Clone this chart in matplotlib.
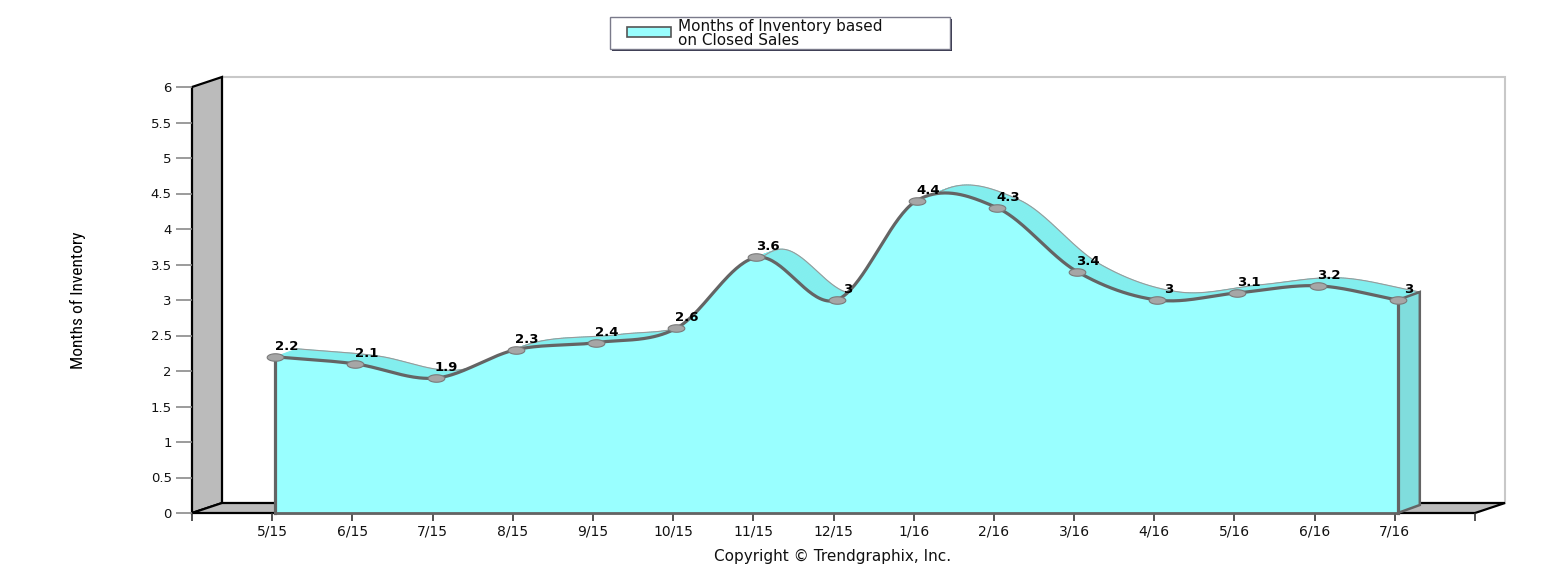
import numpy as np
import matplotlib
matplotlib.use('Agg')
import matplotlib.pyplot as plt
from matplotlib.patches import Polygon, Rectangle
from matplotlib.collections import PolyCollection
from matplotlib.path import Path
from matplotlib import font_manager

# ---------------- data ----------------
months = ['5/15', '6/15', '7/15', '8/15', '9/15', '10/15', '11/15', '12/15',
          '1/16', '2/16', '3/16', '4/16', '5/16', '6/16', '7/16']
inventory = [2.2, 2.1, 1.9, 2.3, 2.4, 2.6, 3.6, 3.0, 4.4, 4.3, 3.4, 3.0, 3.1, 3.2, 3.0]
y_ticks = [0, 0.5, 1, 1.5, 2, 2.5, 3, 3.5, 4, 4.5, 5, 5.5, 6]
y_tick_labels = ['0', '0.5', '1', '1.5', '2', '2.5', '3', '3.5', '4', '4.5', '5', '5.5', '6']
legend_label = 'Months of Inventory based\non Closed Sales'
y_title = 'Months of Inventory'
copyright_text = 'Copyright \u00a9 Trendgraphix, Inc.'

# ---------------- styles ----------------
FRONT = '#99FFFF'
BAND = '#82EEEE'
SIDE = '#80DDDD'
LINE = '#646464'
WALL = '#BBBBBB'

avail = {f.name for f in font_manager.fontManager.ttflist}
narrow = None
for cand in ['Liberation Sans Narrow', 'DejaVu Sans Condensed', 'Roboto Condensed', 'Open Sans Condensed']:
    if cand in avail:
        narrow = cand
        break

W, H = 1560, 583
fig = plt.figure(figsize=(W / 100, H / 100), dpi=100)
n = len(months)
ax = fig.add_axes([192 / W, (H - 513) / H, 1283 / W, 426 / H])
ax.set_xlim(-1, n)
ax.set_ylim(0, 6)
for s in ax.spines.values():
    s.set_visible(False)
ax.patch.set_visible(False)

px_x = 1283 / (n + 1)
px_y = 426 / 6
wdx, wdy = 30 / px_x, 10 / px_y      # wall depth
sdx, sdy = 22 / px_x, 8 / px_y       # series depth
shift = 3 / px_x                     # series sits slightly right of tick

# back wall
ax.add_patch(Rectangle((-1 + wdx, wdy), n + 1, 6, facecolor='white',
                       edgecolor='#C8C8C8', lw=1.5, zorder=0.5, clip_on=False))
# left wall
ax.add_patch(Polygon([(-1, 0), (-1, 6), (-1 + wdx, 6 + wdy), (-1 + wdx, wdy)],
                     closed=True, facecolor=WALL, edgecolor='black', lw=1.6,
                     zorder=1, clip_on=False, joinstyle='miter'))
# floor
ax.add_patch(Polygon([(-1, 0), (n, 0), (n + wdx, wdy), (-1 + wdx, wdy)],
                     closed=True, facecolor=WALL, edgecolor='black', lw=1.6,
                     zorder=1, clip_on=False, joinstyle='miter'))


# smooth (Catmull-Rom) curve through the values
def catmull(ys, steps=40):
    ys = np.asarray(ys, float)
    m = np.empty_like(ys)
    m[1:-1] = (ys[2:] - ys[:-2]) / 2
    m[0] = ys[1] - ys[0]
    m[-1] = ys[-1] - ys[-2]
    xs_out, ys_out = [], []
    t = np.linspace(0, 1, steps, endpoint=False)
    h00 = 2 * t**3 - 3 * t**2 + 1
    h10 = t**3 - 2 * t**2 + t
    h01 = -2 * t**3 + 3 * t**2
    h11 = t**3 - t**2
    for i in range(len(ys) - 1):
        xs_out.append(i + t)
        ys_out.append(h00 * ys[i] + h10 * m[i] + h01 * ys[i + 1] + h11 * m[i + 1])
    xs_out.append([len(ys) - 1])
    ys_out.append([ys[-1]])
    return np.concatenate(xs_out), np.concatenate(ys_out)


cx, cy = catmull(inventory)
cx = cx + shift
xpos = np.arange(n) + shift

# top band (3D ribbon)
quads = []
for i in range(len(cx) - 1):
    quads.append([(cx[i], cy[i]), (cx[i + 1], cy[i + 1]),
                  (cx[i + 1] + sdx, cy[i + 1] + sdy), (cx[i] + sdx, cy[i] + sdy)])
ax.add_collection(PolyCollection(quads, facecolors=BAND, edgecolors=BAND,
                                 linewidths=0.6, zorder=2, clip_on=False))
ax.plot(cx + sdx, cy + sdy, color='#9A9A9A', lw=0.8, zorder=2.1, clip_on=False)

# right side face
lx = xpos[-1]
ax.add_patch(Polygon([(lx, 0), (lx, inventory[-1]),
                      (lx + sdx, inventory[-1] + sdy), (lx + sdx, sdy)],
                     closed=True, facecolor=SIDE, edgecolor=LINE, lw=1.8,
                     zorder=2.2, clip_on=False, joinstyle='miter'))

# front face
ax.fill_between(cx, 0, cy, facecolor=FRONT, edgecolor='none', zorder=3, clip_on=False)
ax.plot(cx, cy, color=LINE, lw=2.3, zorder=4, solid_capstyle='round', clip_on=False)
ax.plot([xpos[0], xpos[0]], [0, inventory[0]], color=LINE, lw=2.3, zorder=4, clip_on=False)
ax.plot([lx, lx], [0, inventory[-1]], color=LINE, lw=2.3, zorder=4, clip_on=False)
ax.plot([xpos[0], lx], [0, 0], color=LINE, lw=2.0, zorder=4, clip_on=False)

# markers (ellipses)
th = np.linspace(0, 2 * np.pi, 41)
ell = Path(np.c_[np.cos(th), 0.45 * np.sin(th)], closed=True)
ax.plot(xpos, inventory, linestyle='none', marker=ell, ms=12,
        mfc='#A6A6A6', mec='#7A7A7A', mew=0.8, zorder=5, clip_on=False)

# data labels
for x, v in zip(xpos, inventory):
    ax.annotate(f'{v:g}', (x, v), xytext=(8, 5), textcoords='offset points',
                ha='center', va='baseline', fontsize=9.5, fontweight='bold',
                color='black', zorder=6)

# axes ticks
ax.set_yticks(y_ticks)
ax.set_yticklabels(y_tick_labels)
ax.set_xticks(range(n))
ax.set_xticklabels(months)
ax.set_xticks([-1, n], minor=True)
ax.tick_params(axis='y', length=11.5, width=1.2, color='#8A8A8A', pad=3,
               labelsize=9.5, labelcolor='#111111')
ax.tick_params(axis='x', which='both', length=6, width=1.2, color='#333333',
               pad=2, labelsize=10, labelcolor='#111111')

# y title
if narrow:
    fig.text(78 / W, 1 - 300 / H, y_title, rotation=90, ha='center', va='center',
             fontsize=12.5, family=narrow, color='black')
else:
    fig.text(78 / W, 1 - 300 / H, y_title, rotation=90, ha='center', va='center',
             fontsize=10.5, family='Liberation Sans', color='black')

# legend
fig.patches.append(Rectangle((612 / W, 1 - 51 / H), 340 / W, 32 / H,
                             transform=fig.transFigure, facecolor='#33334A',
                             edgecolor='none', zorder=1))
fig.patches.append(Rectangle((610 / W, 1 - 49 / H), 340 / W, 32 / H,
                             transform=fig.transFigure, facecolor='white',
                             edgecolor='#7A7A8A', lw=1.0, zorder=2))
fig.patches.append(Rectangle((627 / W, 1 - 37 / H), 44 / W, 10 / H,
                             transform=fig.transFigure, facecolor=FRONT,
                             edgecolor='#555555', lw=1.2, zorder=3))
fig.text(678 / W, 1 - 33.5 / H, legend_label, ha='left', va='center',
         fontsize=11, linespacing=0.9, color='#111111', zorder=4)

# copyright
fig.text(833 / W, 1 - 556 / H, copyright_text, ha='center', va='center',
         fontsize=11, color='#111111')

fig.savefig('out.png', dpi=100)
